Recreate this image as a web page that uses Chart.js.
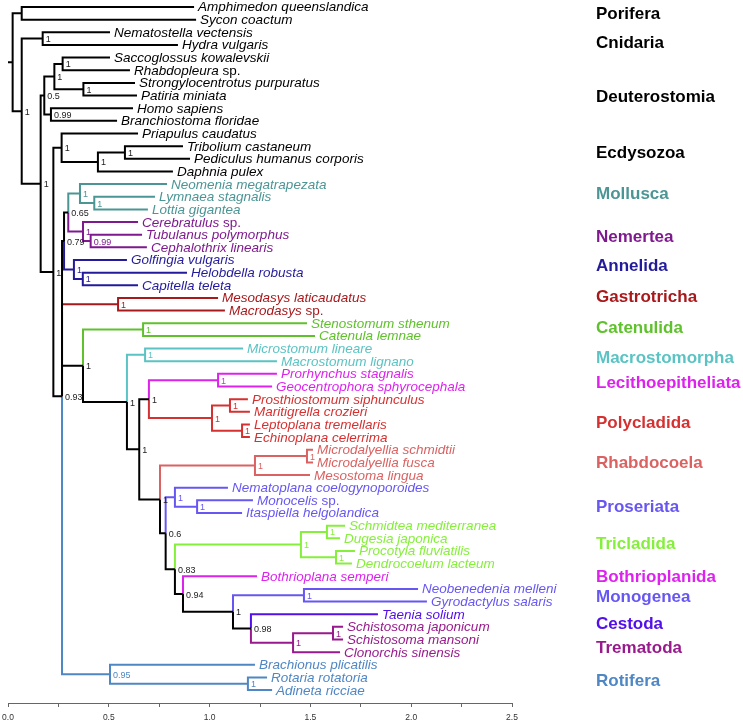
<!DOCTYPE html>
<html lang="en">
<head>
<meta charset="UTF-8">
<title>Phylogeny</title>
<script src="https://cdn.jsdelivr.net/npm/chart.js"></script>
<style>
  body { margin: 0; background: #fff; }
  .wrap { position: relative; width: 743px; height: 723px; }
</style>
</head>
<body>
<div class="wrap"><canvas id="treeChart"></canvas></div>
<script>
// leaves, top to bottom
const taxa = [
  'Amphimedon queenslandica', 'Sycon coactum', 'Nematostella vectensis', 'Hydra vulgaris',
  'Saccoglossus kowalevskii', 'Rhabdopleura sp.', 'Strongylocentrotus purpuratus', 'Patiria miniata',
  'Homo sapiens', 'Branchiostoma floridae', 'Priapulus caudatus', 'Tribolium castaneum',
  'Pediculus humanus corporis', 'Daphnia pulex', 'Neomenia megatrapezata', 'Lymnaea stagnalis',
  'Lottia gigantea', 'Cerebratulus sp.', 'Tubulanus polymorphus', 'Cephalothrix linearis',
  'Golfingia vulgaris', 'Helobdella robusta', 'Capitella teleta', 'Mesodasys laticaudatus',
  'Macrodasys sp.', 'Stenostomum sthenum', 'Catenula lemnae', 'Microstomum lineare',
  'Macrostomum lignano', 'Prorhynchus stagnalis', 'Geocentrophora sphyrocephala', 'Prosthiostomum siphunculus',
  'Maritigrella crozieri', 'Leptoplana tremellaris', 'Echinoplana celerrima', 'Microdalyellia schmidtii',
  'Microdalyellia fusca', 'Mesostoma lingua', 'Nematoplana coelogynoporoides', 'Monocelis sp.',
  'Itaspiella helgolandica', 'Schmidtea mediterranea', 'Dugesia japonica', 'Procotyla fluviatilis',
  'Dendrocoelum lacteum', 'Bothrioplana semperi', 'Neobenedenia melleni', 'Gyrodactylus salaris',
  'Taenia solium', 'Schistosoma japonicum', 'Schistosoma mansoni', 'Clonorchis sinensis',
  'Brachionus plicatilis', 'Rotaria rotatoria', 'Adineta ricciae'
];
// distance of each tip from the root (substitutions/site)
const tipDepth = [
  0.923, 0.933, 0.506, 0.843, 0.506, 0.605, 0.630, 0.640, 0.620, 0.541,
  0.645, 0.868, 0.903, 0.818, 0.789, 0.729, 0.694, 0.645, 0.665, 0.689,
  0.590, 0.888, 0.645, 1.042, 1.076, 1.483, 1.523, 1.166, 1.334, 1.334,
  1.310, 1.190, 1.200, 1.200, 1.200, 1.513, 1.513, 1.498, 1.091, 1.215,
  1.161, 1.672, 1.647, 1.721, 1.706, 1.235, 2.034, 2.078, 1.835, 1.662,
  1.662, 1.647, 1.225, 1.285, 1.310
];
const leafClade = [
  0, 0, 1, 1, 2, 2, 2, 2, 2, 2, 3, 3, 3, 3, 4, 4, 4, 5, 5, 5,
  6, 6, 6, 7, 7, 8, 8, 9, 9, 10, 10, 11, 11, 11, 11, 12, 12, 12, 13, 13,
  13, 14, 14, 14, 14, 15, 16, 16, 17, 18, 18, 18, 19, 19, 19
];
const cladeNames = [
  'Porifera', 'Cnidaria', 'Deuterostomia', 'Ecdysozoa', 'Mollusca', 'Nemertea', 'Annelida',
  'Gastrotricha', 'Catenulida', 'Macrostomorpha', 'Lecithoepitheliata', 'Polycladida',
  'Rhabdocoela', 'Proseriata', 'Tricladida', 'Bothrioplanida', 'Monogenea', 'Cestoda',
  'Trematoda', 'Rotifera'
];
// row (in leaf units) where each clade name sits
const cladeRow = [
  0.5, 2.8, 7.1, 11.5, 14.7, 18.1, 20.4, 22.9, 25.3, 27.7,
  29.7, 32.8, 36.0, 39.5, 42.4, 45.0, 46.6, 48.7, 50.6, 53.2
];
const cladeColors = [
  '#000000', '#000000', '#000000', '#000000', '#4c9595', '#7e1a8e', '#231b9b',
  '#a8191c', '#5fc12c', '#5bc3c3', '#dd22ee', '#d63131', '#da6262', '#6757f2',
  '#86ef3c', '#dd22ee', '#6757f2', '#5310ea', '#981a8c', '#4f86c4'
];

// internal nodes: id, depth, posterior support, children (numbers = leaves)
const nodeIds = [
  'root', 'por', 'n1', 'cni', 'bil', 'deu', 'amb', 'hem', 'ech', 'cho',
  'pro', 'ecd', 'art', 'ins', 'spi', 'lop', 'mone', 'mol', 'lymlot', 'nem',
  'tubcep', 'ann', 'helcap', 'gas', 'pla', 'cat', 'rha', 'mac', 'tre', 'lepo',
  'lec', 'pol', 'prosmar', 'lepech', 'tr2', 'rhb', 'micro', 'n06', 'prs', 'monita',
  'n083', 'tri', 'schdug', 'prodend', 'n094', 'neo', 'mng', 'n098', 'trm', 'schi',
  'rot', 'rotadi'
];
const nodeDepth = [
  0.023, 0.068, 0.068, 0.172, 0.162, 0.180, 0.230, 0.271, 0.374, 0.213,
  0.225, 0.266, 0.446, 0.580, 0.268, 0.278, 0.299, 0.357, 0.428, 0.372,
  0.410, 0.327, 0.371, 0.546, 0.372, 0.670, 0.590, 0.680, 0.651, 0.699,
  1.042, 1.012, 1.101, 1.161, 0.754, 1.225, 1.483, 0.782, 0.828, 0.938,
  0.828, 1.453, 1.582, 1.627, 0.868, 1.116, 1.468, 1.205, 1.414, 1.612,
  0.506, 1.190
];
const nodeSupport = [
  '', '', '1', '1', '1', '0.5', '1', '1', '1', '0.99',
  '1', '1', '1', '1', '0.93', '0.79', '0.65', '1', '1', '1',
  '0.99', '1', '1', '1', '1', '1', '1', '1', '1', '1',
  '1', '1', '1', '1', '1', '1', '1', '0.6', '1', '1',
  '0.83', '1', '1', '1', '0.94', '1', '1', '0.98', '1', '1',
  '0.95', '1'
];
const nodeKids = [
  ['por', 'n1'], [0, 1], ['cni', 'bil'], [2, 3], ['deu', 'pro'], ['amb', 'cho'], ['hem', 'ech'], [4, 5], [6, 7], [8, 9],
  ['ecd', 'spi'], [10, 'art'], ['ins', 13], [11, 12], ['lop', 'gas', 'pla', 'rot'], ['mone', 'ann'], ['mol', 'nem'], [14, 'lymlot'], [15, 16], [17, 'tubcep'],
  [18, 19], [20, 'helcap'], [21, 22], [23, 24], ['cat', 'rha'], [25, 26], ['mac', 'tre'], [27, 28], ['lepo', 'tr2'], ['lec', 'pol'],
  [29, 30], ['prosmar', 'lepech'], [31, 32], [33, 34], ['rhb', 'n06'], ['micro', 37], [35, 36], ['prs', 'n083'], [38, 'monita'], [39, 40],
  ['tri', 'n094'], ['schdug', 'prodend'], [41, 42], [43, 44], [45, 'neo'], ['mng', 'n098'], [46, 47], [48, 'trm'], ['schi', 51], [49, 50],
  [52, 'rotadi'], [53, 54]
];

const xTicksMax = 2.5;

// --- layout helpers ---
function idx(ref) { return nodeIds.indexOf(ref); }
function depthOf(ref) { return typeof ref === 'number' ? tipDepth[ref] : nodeDepth[idx(ref)]; }
function rowOf(ref) {
  if (typeof ref === 'number') return ref;
  const kids = nodeKids[idx(ref)];
  return kids.reduce((s, k) => s + rowOf(k), 0) / kids.length;
}
function leavesOf(ref) {
  if (typeof ref === 'number') return [ref];
  return nodeKids[idx(ref)].flatMap(leavesOf);
}
function colorOf(ref) {
  const cl = new Set(leavesOf(ref).map(l => leafClade[l]));
  return cl.size === 1 ? cladeColors[[...cl][0]] : '#000000';
}

// build one dataset per colour, branches separated by gaps
const byColor = {};
function addSeg(color, pts) {
  if (!byColor[color]) byColor[color] = [];
  byColor[color].push(...pts, { x: pts[0].x, y: null });
}
addSeg('#000000', [{ x: 0, y: rowOf('root') }, { x: nodeDepth[0], y: rowOf('root') }]);
nodeIds.forEach((id, i) => {
  const px = nodeDepth[i], py = rowOf(id);
  nodeKids[i].forEach(k => {
    const cy = rowOf(k);
    addSeg(colorOf(k), [{ x: px, y: py }, { x: px, y: cy }, { x: depthOf(k), y: cy }]);
  });
});
const datasets = Object.keys(byColor).map(c => ({
  data: byColor[c],
  borderColor: c,
  borderWidth: 2,
  pointRadius: 0,
  spanGaps: false,
  borderCapStyle: 'butt',
  borderJoinStyle: 'miter',
  tension: 0
}));

const labelPlugin = {
  id: 'treeLabels',
  afterDatasetsDraw(chart) {
    const ctx = chart.ctx;
    const xs = chart.scales.x, ys = chart.scales.y;
    ctx.save();
    ctx.textBaseline = 'alphabetic';
    ctx.textAlign = 'left';
    // tip names
    taxa.forEach((name, i) => {
      const x = xs.getPixelForValue(tipDepth[i]) + 4;
      const y = ys.getPixelForValue(i) + 4.5;
      ctx.fillStyle = cladeColors[leafClade[i]];
      let main = name, tail = '';
      if (name.endsWith(' sp.')) { main = name.slice(0, -4); tail = ' sp.'; }
      ctx.font = 'italic 13.5px "Liberation Sans", Arial, sans-serif';
      ctx.fillText(main, x, y);
      if (tail) {
        const w = ctx.measureText(main).width;
        ctx.font = '13.5px "Liberation Sans", Arial, sans-serif';
        ctx.fillText(tail, x + w, y);
      }
    });
    // support values
    ctx.font = '9px "Liberation Sans", Arial, sans-serif';
    nodeIds.forEach((id, i) => {
      if (!nodeSupport[i]) return;
      const c = colorOf(id);
      ctx.fillStyle = c === '#000000' ? '#222222' : c;
      ctx.fillText(nodeSupport[i], xs.getPixelForValue(nodeDepth[i]) + 3, ys.getPixelForValue(rowOf(id)) + 3.5);
    });
    // clade names
    ctx.font = 'bold 17px "Liberation Sans", Arial, sans-serif';
    ctx.textBaseline = 'middle';
    cladeNames.forEach((n, i) => {
      ctx.fillStyle = cladeColors[i];
      ctx.fillText(n, 596, ys.getPixelForValue(cladeRow[i]) + 1);
    });
    ctx.restore();
  }
};

new Chart(document.getElementById('treeChart'), {
  type: 'line',
  data: { datasets: datasets },
  options: {
    responsive: true,
    maintainAspectRatio: false,
    animation: false,
    layout: { padding: { left: 8, right: 231, top: 0, bottom: 0 } },
    plugins: { legend: { display: false }, tooltip: { enabled: false } },
    scales: {
      x: {
        type: 'linear',
        min: 0,
        max: xTicksMax,
        position: 'bottom',
        afterFit: scale => {
          scale.height = 20;
          scale.paddingLeft = 0;
          scale.paddingRight = 0;
        },
        grid: { drawOnChartArea: false, drawTicks: true, tickLength: 4, color: '#666' },
        border: { display: true, color: '#666', width: 1 },
        ticks: {
          stepSize: 0.25,
          padding: 6,
          color: '#333',
          font: { size: 8.5, family: '"Liberation Sans", Arial, sans-serif' },
          maxRotation: 0,
          autoSkip: false,
          callback: v => Math.abs(v * 2 - Math.round(v * 2)) < 1e-6 ? v.toFixed(1) : ''
        }
      },
      y: {
        type: 'linear',
        reverse: true,
        min: -0.553,
        max: 55.02,
        display: false
      }
    }
  },
  plugins: [labelPlugin]
});
</script>
</body>
</html>
